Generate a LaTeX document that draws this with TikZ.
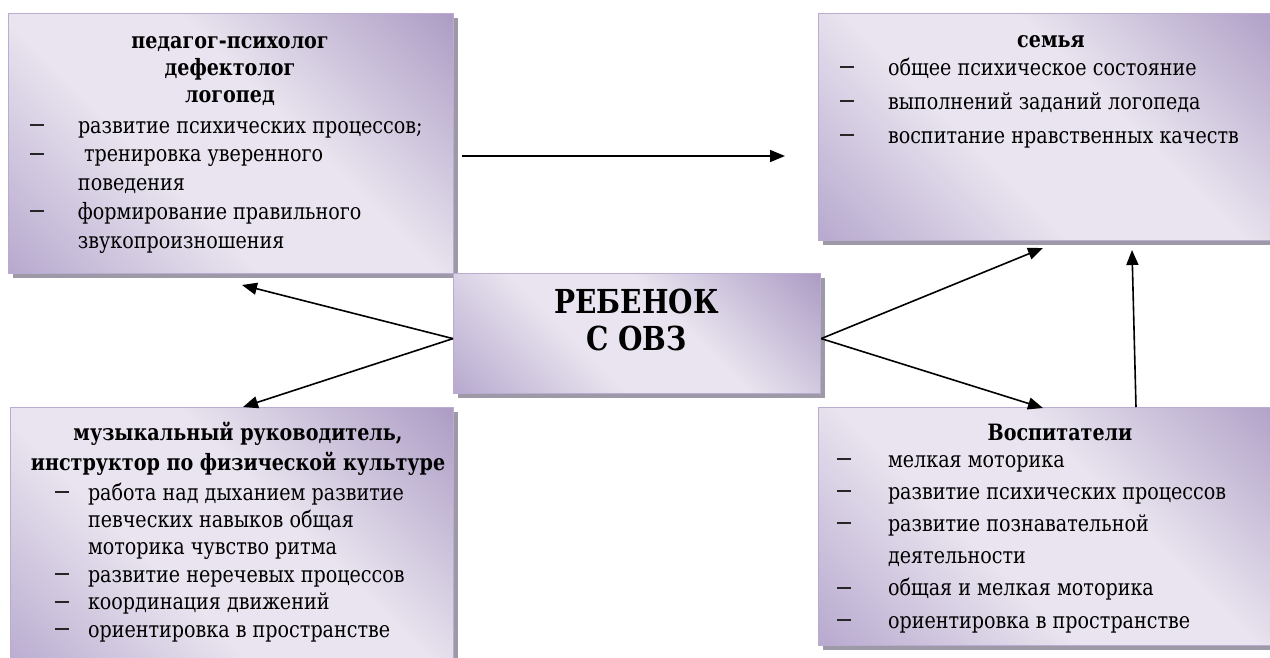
\documentclass[tikz,border=0pt]{standalone}
\usepackage{fontspec}
\IfFontExistsTF{TemporaLGCUni-Regular.otf}
 {\setmainfont{TemporaLGCUni}[Extension=.otf,UprightFont=*-Regular,BoldFont=*-Bold]}
 {\setmainfont{DejaVu Serif}[FakeStretch=0.85]}
\usetikzlibrary{arrows.meta,shadows}
\definecolor{gDark}{HTML}{AD9DC5}
\definecolor{gBot}{HTML}{B8AACF}
\definecolor{gLight}{HTML}{E9E4EF}
\definecolor{boxline}{HTML}{BAABD0}
\definecolor{shgray}{HTML}{9E99A6}
\definecolor{dashcol}{HTML}{262626}
\pgfdeclarehorizontalshading{wordgrad}{100bp}{color(0bp)=(gBot); color(15bp)=(gBot); color(40bp)=(gLight); color(58bp)=(gLight); color(85bp)=(gDark); color(100bp)=(gDark)}
\newcommand\dsh{\textcolor{dashcol}{\rule[7pt]{14pt}{2pt}}}
\tikzset{
  panel/.style={shade, shading=wordgrad, shading angle=45, draw=boxline, line width=1.2pt,
    anchor=north west, inner sep=0pt,
    drop shadow={shadow xshift=4pt, shadow yshift=-4pt, fill=shgray, opacity=1}},
  conn/.style={line width=1.6pt, -{Triangle[length=15pt,width=12pt]}},
  txt/.style={inner sep=0pt, outer sep=0pt},
  hdr/.style={txt, anchor=base, font=\bfseries\fontsize{22.5pt}{#1}\selectfont},
  lst/.style={txt, anchor=base west, font=\fontsize{22.5pt}{#1}\selectfont},
}
\begin{document}
\begin{tikzpicture}[x=1pt,y=-1pt]
\useasboundingbox (0,0) rectangle (1270,657);
\fill[white] (0,0) rectangle (1270,657);
\begin{scope}
\clip (0,0) rectangle (1270,657);
% panels
\node[panel, minimum width=445pt, minimum height=260pt] (TL) at (8,13) {};
\node[panel, minimum width=470pt, minimum height=227pt] (TR) at (818,13) {};
\node[panel, minimum width=367pt, minimum height=120pt] (C) at (453,273) {};
\node[panel, minimum width=443pt, minimum height=270pt] (BL) at (10,407) {};
\node[panel, minimum width=480pt, minimum height=238pt] (BR) at (818,407) {};

% texts
\node[hdr=27pt] (TLh) at (230,48) {\begin{tabular}[t]{@{}c@{}}педагог-психолог\\дефектолог\\логопед\end{tabular}};
\node[lst=28.75pt] (TLl) at (30,133) {\begin{tabular}[t]{@{}p{48pt}@{}l@{}}
\dsh & развитие психических процессов;\\
\dsh & \ тренировка уверенного\\
  & поведения\\
\dsh & формирование правильного\\
  & звукопроизношения
\end{tabular}};

\node[hdr=27pt] (TRh) at (1051,47) {семья};
\node[lst=34pt] (TRl) at (840,75) {\begin{tabular}[t]{@{}p{48pt}@{}l@{}}
\dsh & общее психическое состояние\\
\dsh & выполнений заданий логопеда\\
\dsh & воспитание нравственных качеств
\end{tabular}};

\node[txt, anchor=base, font=\bfseries\fontsize{33pt}{37pt}\selectfont] (Ch) at (636.5,313)
  {\begin{tabular}[t]{@{}c@{}}РЕБЕНОК\\С ОВЗ\end{tabular}};

\node[hdr=30pt] (BLh) at (238,440) {\begin{tabular}[t]{@{}c@{}}музыкальный руководитель,\\инструктор по физической культуре\end{tabular}};
\node[lst=27.4pt] (BLl) at (55,500) {\begin{tabular}[t]{@{}p{33pt}@{}l@{}}
\dsh & работа над дыханием развитие\\
  & певческих навыков общая\\
  & моторика чувство ритма\\
\dsh & развитие неречевых процессов\\
\dsh & координация движений\\
\dsh & ориентировка в пространстве
\end{tabular}};

\node[hdr=30pt] (BRh) at (1060,440) {Воспитатели};
\node[lst=32.2pt] (BRl) at (837,467) {\begin{tabular}[t]{@{}p{51pt}@{}l@{}}
\dsh & мелкая моторика\\
\dsh & развитие психических процессов\\
\dsh & развитие познавательной\\
  & деятельности\\
\dsh & общая и мелкая моторика\\
\dsh & ориентировка в пространстве
\end{tabular}};

% connectors
\coordinate (hs) at (462,156);
\coordinate (he) at (785,156);
\coordinate (tTL) at (242,285);
\coordinate (tBL) at (243,407);
\coordinate (tTR) at (1043,248);
\coordinate (tBR) at (1043,408);
\coordinate (vS) at (1136,407);
\coordinate (vE) at (1132,250);
\draw[conn] (hs) -- (he);
\draw[conn] ([yshift=-5pt]C.west) -- (tTL);
\draw[conn] ([yshift=-5pt]C.west) -- (tBL);
\draw[conn] ([yshift=-5pt]C.east) -- (tTR);
\draw[conn] ([yshift=-5pt]C.east) -- (tBR);
\draw[conn] (vS) -- (vE);
\end{scope}
\end{tikzpicture}
\end{document}
